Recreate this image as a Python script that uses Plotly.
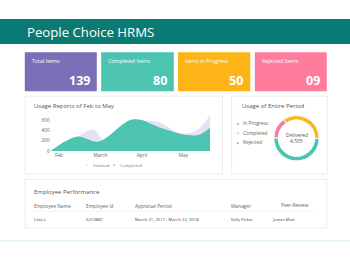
import plotly.graph_objects as go

W, H = 350, 263
FONT = "Open Sans"

# ---- data ----
card_labels = ["Total Items", "Completed Items", "Items in Progress", "Rejected Items"]
card_values = ["139", "80", "50", "09"]
card_colors = ["#7b70b7", "#4cc4b0", "#fdb416", "#fe7c9c"]

month_ticks = [0, 1, 2, 3]
month_labels = ["Feb", "March", "April", "May"]

initiated_x = [-0.2, 0.43, 0.83, 1.1, 1.45, 1.79, 2.39, 2.92, 3.3, 3.64]
initiated_y = [0, 265, 415, 205, 380, 560, 560, 340, 390, 690]
completed_x = [-0.2, 0.43, 0.95, 1.79, 2.5, 3.1, 3.4, 3.64]
completed_y = [0, 275, 180, 612, 434, 306, 320, 447]
y_ticks = [0, 200, 400, 600]

donut_labels = ["In Progress", "Completed", "Rejected"]
donut_values = [35, 50, 15]
donut_colors = ["#fbb71b", "#4cc4b0", "#f57f9f"]
legend_dot_colors = ["#5a4fa0", "#4cc4b0", "#4b4f9c"]

table_headers = ["Employee Name", "Employee Id", "Appraisal Period", "Manager", "Peer-Review"]
table_row = ["Leila L", "5210887", "March 21, 2017 - March 22, 2018", "Kelly Picker", "James Matt"]


def px(x):
    return x / W


def py(y):
    return 1 - y / H


fig = go.Figure()
shapes = []
ann = []


def rect(x0, y0, x1, y1, fill, line=None, lw=0):
    shapes.append(dict(type="rect", xref="paper", yref="paper",
                       x0=px(x0), x1=px(x1), y0=py(y1), y1=py(y0),
                       fillcolor=fill, line=dict(color=line or fill, width=lw),
                       layer="below"))


def text(x, y, s, size, color, xanchor="left", bold=False):
    ann.append(dict(xref="paper", yref="paper", x=px(x), y=py(y),
                    text=f"<b>{s}</b>" if bold else s, showarrow=False,
                    xanchor=xanchor, yanchor="middle",
                    font=dict(family=FONT, size=size, color=color)))


# header
rect(0, 19.3, 350, 44.5, "#0b7a72")
text(24.5, 32.8, "People Choice HRMS", 13.2, "white")

# cards
card_x = [(24.8, 96.8), (101.2, 173.8), (178, 250.3), (254.8, 326.8)]
for (x0, x1), lab, val, col in zip(card_x, card_labels, card_values, card_colors):
    rect(x0, 52.8, x1, 92.2, col)
    text(x0 + 5, 61.6, lab, 5.3, "white")
    text(x1 - 5, 81.8, val, 12.5, "white", xanchor="right", bold=True)

# panels
rect(25, 97.3, 222.5, 176, "white", "#ededed", 1)
rect(231.7, 97.3, 327.3, 176, "white", "#ededed", 1)
rect(25, 181.5, 326.7, 230.7, "white", "#ededed", 1)
shapes.append(dict(type="line", xref="paper", yref="paper", x0=0, x1=1,
                   y0=py(243.5), y1=py(243.5), line=dict(color="#e3f3f0", width=1.5)))

# area chart
text(31.5, 107.5, "Usage Reports of Feb to May", 6, "#555555")
fig.add_trace(go.Scatter(x=initiated_x, y=initiated_y, mode="lines", fill="tozeroy",
                         line=dict(shape="spline", smoothing=1.0, width=0, color="#e6e1f6"),
                         fillcolor="#e6e1f6", name="Initiated", hoverinfo="skip"))
fig.add_trace(go.Scatter(x=completed_x, y=completed_y, mode="lines", fill="tozeroy",
                         line=dict(shape="spline", smoothing=1.0, width=0, color="#4cc4b0"),
                         fillcolor="#4cc4b0", name="Completed", hoverinfo="skip"))

text(86.7, 166.8, "●", 3.5, "#e0dbf2", xanchor="center")
text(90.5, 166.8, "Initiated", 4.3, "#777777")
text(114.3, 166.8, "●", 3.5, "#2fb5c0", xanchor="center")
text(117.5, 166.8, "Completed", 4.3, "#777777")

# donut
text(240, 107.5, "Usage of Entire Period", 6, "#555555")
fig.add_trace(go.Pie(labels=donut_labels, values=donut_values, hole=0.8, sort=False,
                     direction="clockwise", rotation=-35,
                     marker=dict(colors=donut_colors, line=dict(color="white", width=1)),
                     textinfo="none", hoverinfo="skip", showlegend=False,
                     domain=dict(x=[px(273.5), px(319.5)], y=[py(162.8), py(116.8)])))
text(296.5, 137.0, "Delivered", 5.0, "#555555", xanchor="center")
text(296.5, 143.0, "4,505", 5.0, "#555555", xanchor="center")
for i, (lab, c) in enumerate(zip(donut_labels, legend_dot_colors)):
    yy = 124.5 + i * 9.6
    text(238.2, yy, "●", 3.3, c, xanchor="center")
    text(240.8, yy, lab, 4.8, "#666666")

# table
text(31.5, 194, "Employee Performance", 6, "#555555")
col_x = [31.7, 84, 132.7, 228.7, 279.3]
row_x = [31.7, 84, 132.7, 228.7, 269.7]
for hx, h in zip(col_x, table_headers):
    text(hx, 208 if h != "Peer-Review" else 207.3, h, 4.8, "#666666")
shapes.append(dict(type="line", xref="paper", yref="paper", x0=px(31), x1=px(316.5),
                   y0=py(213.5), y1=py(213.5), line=dict(color="#f0f0f0", width=0.8)))
for rx, r in zip(row_x, table_row):
    text(rx, 222, r, 4.2, "#444444")

fig.update_layout(
    width=W, height=H, margin=dict(l=0, r=0, t=0, b=0),
    paper_bgcolor="white", plot_bgcolor="rgba(0,0,0,0)",
    showlegend=False, shapes=shapes, annotations=ann,
    xaxis=dict(domain=[px(50.7), px(210)], range=[-0.2, 3.64],
               tickvals=month_ticks, ticktext=month_labels,
               showgrid=False, zeroline=False, showline=False, ticks="",
               tickfont=dict(family=FONT, size=4.8, color="#666666")),
    yaxis=dict(domain=[py(152.7), py(115)], range=[0, 720],
               tickvals=y_ticks, showgrid=False, zeroline=False, showline=False, ticks="",
               tickfont=dict(family=FONT, size=4.8, color="#666666")),
)

fig.write_html("out.html")
